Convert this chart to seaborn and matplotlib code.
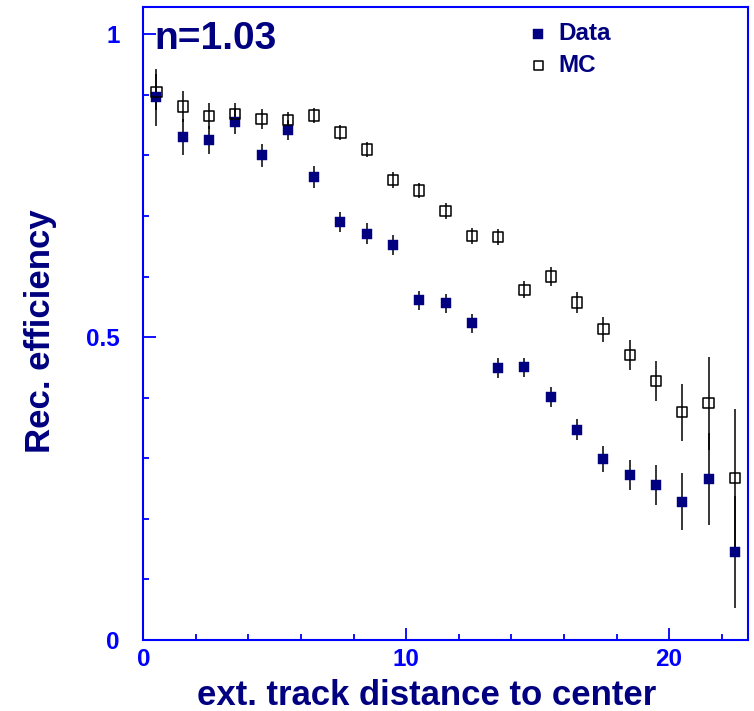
import numpy as np
import pandas as pd
import matplotlib
matplotlib.use("Agg")
import matplotlib.pyplot as plt
import seaborn as sns

# bin centres (ext. track distance to center)
distancia = [0.5, 1.5, 2.5, 3.5, 4.5, 5.5, 6.5, 7.5, 8.5, 9.5, 10.5, 11.5,
             12.5, 13.5, 14.5, 15.5, 16.5, 17.5, 18.5, 19.5, 20.5, 21.5, 22.5]

# efficiency for data
ef_data = [0.896, 0.830, 0.825, 0.856, 0.800, 0.842, 0.764, 0.690, 0.671, 0.652, 0.561, 0.556,
           0.523, 0.449, 0.450, 0.401, 0.347, 0.299, 0.272, 0.256, 0.228, 0.266, 0.145]
err_data = [0.047, 0.030, 0.023, 0.020, 0.019, 0.016, 0.018, 0.017, 0.017, 0.016, 0.016, 0.016,
            0.016, 0.016, 0.016, 0.017, 0.017, 0.021, 0.025, 0.033, 0.047, 0.076, 0.092]

# efficiency for MC
ef_mc = [0.905, 0.881, 0.865, 0.869, 0.860, 0.858, 0.866, 0.838, 0.810, 0.759, 0.742, 0.708,
         0.667, 0.665, 0.578, 0.600, 0.557, 0.513, 0.470, 0.427, 0.376, 0.391, 0.267]
err_mc = [0.030, 0.025, 0.021, 0.017, 0.016, 0.013, 0.013, 0.013, 0.013, 0.013, 0.013, 0.013,
          0.014, 0.013, 0.014, 0.016, 0.017, 0.021, 0.025, 0.033, 0.047, 0.077, 0.114]

x_major = [0, 10, 20]
x_minor = [2, 4, 6, 8, 12, 14, 16, 18, 22]
y_major = [0, 0.5, 1]
y_labels = ['0', '0.5', '1']
y_minor = [0.1, 0.2, 0.3, 0.4, 0.6, 0.7, 0.8, 0.9]

azul = '#0000ff'
marinho = '#000080'

sns.set_theme(style='white')
plt.rcParams['font.family'] = ['Liberation Sans', 'DejaVu Sans']
plt.rcParams['font.weight'] = 'bold'

df = pd.DataFrame({'dist': distancia, 'data': ef_data, 'err_data': err_data,
                   'mc': ef_mc, 'err_mc': err_mc})

fig = plt.figure(figsize=(7.54, 7.11), dpi=100)
ax = fig.add_axes([0.19, 0.1, 0.802, 0.89])

# barras de erro
ax.errorbar(df['dist'], df['mc'], yerr=df['err_mc'], fmt='none', ecolor='black',
            elinewidth=1.1, capsize=0, zorder=2)
ax.errorbar(df['dist'], df['data'], yerr=df['err_data'], fmt='none', ecolor='black',
            elinewidth=1.1, capsize=0, zorder=2)

# pontos
sns.scatterplot(data=df, x='dist', y='data', marker='s', s=55, color=marinho,
                edgecolor=marinho, linewidth=0.3, label='Data', ax=ax, zorder=3)
sns.scatterplot(data=df, x='dist', y='mc', marker='s', s=55, facecolor='none',
                edgecolor='black', linewidth=1.1, label='MC', ax=ax, zorder=3)

ax.set_xlim(0, 23)
ax.set_ylim(0, 1.045)

ax.set_xticks(x_major)
ax.set_xticks(x_minor, minor=True)
ax.set_yticks(y_major)
ax.set_yticklabels(y_labels)
ax.set_yticks(y_minor, minor=True)

ax.tick_params(which='both', direction='in', colors=azul, labelcolor=azul,
               labelsize=17.5, width=1.3)
ax.tick_params(which='major', length=9)
ax.tick_params(which='minor', length=4.5)
ax.tick_params(axis='x', which='both', top=False, bottom=True, pad=6)
ax.tick_params(axis='y', which='both', left=True, right=False, pad=17)
for lab in ax.get_xticklabels() + ax.get_yticklabels():
    lab.set_fontweight('bold')

for lado in ['left', 'right', 'top', 'bottom']:
    ax.spines[lado].set_color(azul)
    ax.spines[lado].set_linewidth(1.5)
    ax.spines[lado].set_visible(True)

ax.set_xlabel('ext. track distance to center', fontsize=25, fontweight='bold',
              color=marinho)
ax.set_ylabel('Rec. efficiency', fontsize=25, fontweight='bold', color=marinho)
ax.xaxis.set_label_coords(0.468, -0.062)
ax.yaxis.set_label_coords(-0.143, 0.488)

ax.text(0.018, 0.949, 'n=1.03', transform=ax.transAxes, fontsize=28,
        fontweight='bold', color=marinho, va='center', ha='left')

leg = ax.legend(loc='upper left', bbox_to_anchor=(0.633, 0.976), frameon=False,
                fontsize=17.5, handlelength=1.0, handletextpad=0.35,
                labelspacing=0.35, markerscale=0.9, borderaxespad=0, borderpad=0)
for t in leg.get_texts():
    t.set_color(marinho)
    t.set_fontweight('bold')

fig.savefig('out.png', dpi=100)
